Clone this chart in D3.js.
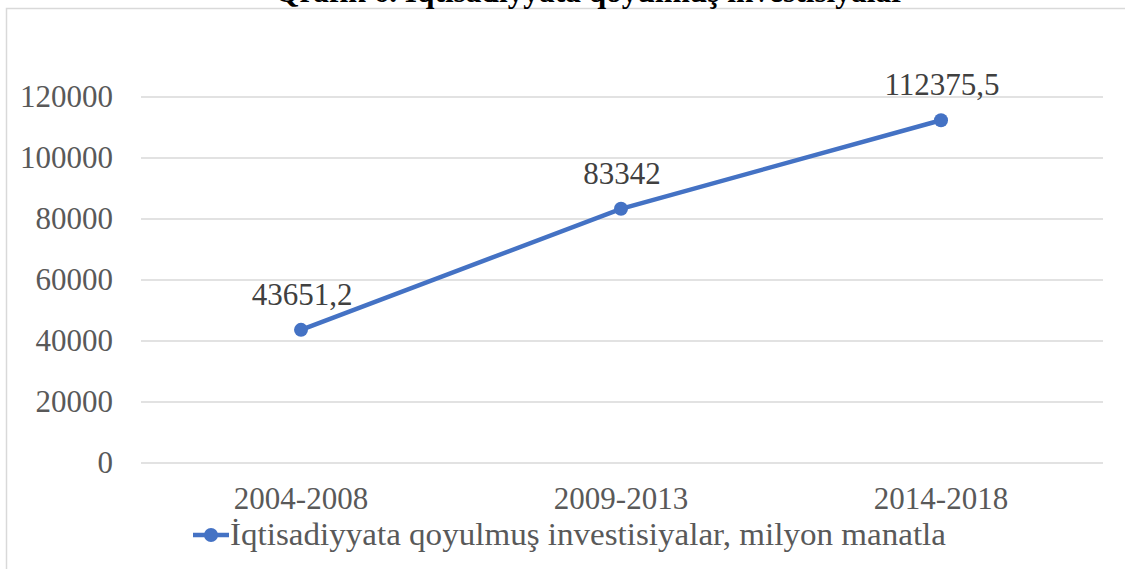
<!DOCTYPE html>
<html>
<head>
<meta charset="utf-8">
<script src="https://cdn.jsdelivr.net/npm/d3@7.9.0/dist/d3.min.js"></script>
<style>
  body { margin: 0; background: #fff; }
  svg { display: block; font-family: "Liberation Serif", "Times New Roman", serif; }
</style>
</head>
<body>
<svg id="chart" width="1125" height="569"></svg>
<script>
const title = 'Qrafik 6. İqtisadiyyata qoyulmuş investisiyalar';
const periods = ['2004-2008', '2009-2013', '2014-2018'];
const investments = [43651.2, 83342, 112375.5];
const valueLabels = ['43651,2', '83342', '112375,5'];
const yTicks = [0, 20000, 40000, 60000, 80000, 100000, 120000];
const seriesName = 'İqtisadiyyata qoyulmuş investisiyalar, milyon manatla';

const svg = d3.select('#chart');
const lineColor = '#4472c4';
const gridColor = '#d9d9d9';

// chart border (right/bottom fall outside the picture)
svg.append('rect')
  .attr('x', 6.5).attr('y', 8.5)
  .attr('width', 1130).attr('height', 580)
  .attr('fill', 'none')
  .attr('stroke', gridColor)
  .attr('stroke-width', 1.5);

// title is cut by the top edge in the original too
svg.append('text')
  .attr('x', 590).attr('y', 2)
  .attr('text-anchor', 'middle')
  .attr('font-weight', 'bold')
  .attr('font-size', 31)
  .attr('fill', '#000')
  .attr('textLength', 630)
  .attr('lengthAdjust', 'spacingAndGlyphs')
  .text(title);

const x = d3.scaleBand().domain(periods).range([141, 1101]);
const y = d3.scaleLinear().domain([0, 120000]).range([463, 97]);

// gridlines
svg.append('g')
  .selectAll('line')
  .data(yTicks)
  .join('line')
  .attr('x1', 141).attr('x2', 1103)
  .attr('y1', d => y(d)).attr('y2', d => y(d))
  .attr('stroke', gridColor)
  .attr('stroke-width', 1.5);

// y labels
svg.append('g')
  .selectAll('text')
  .data(yTicks)
  .join('text')
  .attr('x', 113)
  .attr('y', d => y(d))
  .attr('dy', '0.33em')
  .attr('text-anchor', 'end')
  .attr('font-size', 31)
  .attr('fill', '#595959')
  .text(d => d);

// x labels
svg.append('g')
  .selectAll('text')
  .data(periods)
  .join('text')
  .attr('x', d => x(d) + x.bandwidth() / 2)
  .attr('y', 509)
  .attr('text-anchor', 'middle')
  .attr('font-size', 31)
  .attr('fill', '#595959')
  .text(d => d);

const pts = periods.map((p, i) => [x(p) + x.bandwidth() / 2, y(investments[i])]);

svg.append('path')
  .attr('d', d3.line()(pts))
  .attr('fill', 'none')
  .attr('stroke', lineColor)
  .attr('stroke-width', 4.5)
  .attr('stroke-linecap', 'round');

svg.append('g')
  .selectAll('circle')
  .data(pts)
  .join('circle')
  .attr('cx', d => d[0]).attr('cy', d => d[1])
  .attr('r', 7)
  .attr('fill', lineColor);

svg.append('g')
  .selectAll('text')
  .data(pts)
  .join('text')
  .attr('x', d => d[0] + 1)
  .attr('y', d => d[1] - 25)
  .attr('text-anchor', 'middle')
  .attr('font-size', 31)
  .attr('fill', '#404040')
  .text((d, i) => valueLabels[i]);

// legend
const lg = svg.append('g').attr('transform', 'translate(193,535)');
lg.append('line')
  .attr('x1', 0).attr('x2', 36)
  .attr('stroke', lineColor).attr('stroke-width', 4.5);
lg.append('circle').attr('cx', 18).attr('r', 7).attr('fill', lineColor);
lg.append('text')
  .attr('x', 37).attr('y', 0)
  .attr('dy', '0.33em')
  .attr('font-size', 31)
  .attr('fill', '#595959')
  .attr('textLength', 716)
  .attr('lengthAdjust', 'spacingAndGlyphs')
  .text(seriesName);
</script>
</body>
</html>
